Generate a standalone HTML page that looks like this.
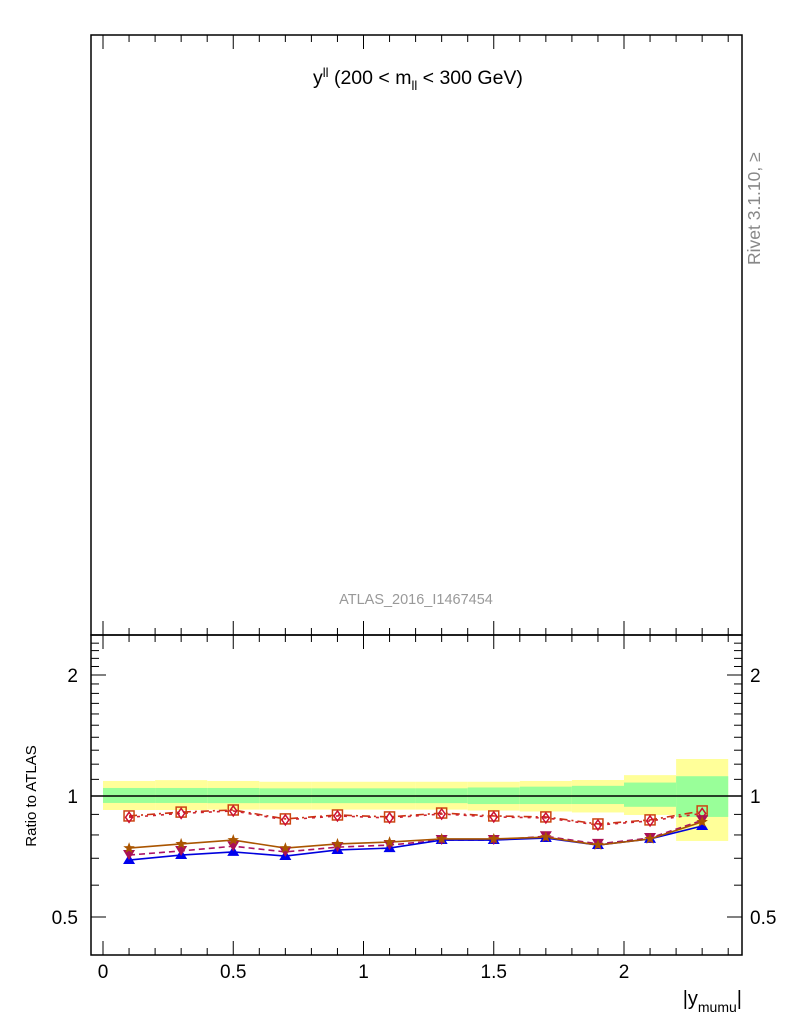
<!DOCTYPE html>
<html><head><meta charset="utf-8"><style>body{margin:0;background:#fff}svg{display:block;font-family:"Liberation Sans",sans-serif}</style></head>
<body>
<svg id="c" width="786" height="1024" viewBox="0 0 786 1024">
<rect x="0" y="0" width="786" height="1024" fill="#fff"/>
<g id="bands"></g><g id="series"></g><g id="axes"></g>
<rect x="91" y="35" width="651" height="600" fill="none" stroke="#000" stroke-width="1.5"/>
<rect x="91" y="635" width="651" height="320" fill="none" stroke="#000" stroke-width="1.5"/>
<text x="313" y="84" font-size="19.5">y<tspan dy="-7" font-size="13">ll</tspan><tspan dy="7"> (200 &lt; m</tspan><tspan dy="6" font-size="13">ll</tspan><tspan dy="-6"> &lt; 300 GeV)</tspan></text>
<text x="416" y="604" font-size="14.5" fill="#999" text-anchor="middle">ATLAS_2016_I1467454</text>
<text transform="translate(760,265) rotate(-90)" font-size="17.5" fill="#888">Rivet 3.1.10, ≥</text>
<text transform="translate(36,796) rotate(-90)" font-size="15" text-anchor="middle">Ratio to ATLAS</text>
<text x="742" y="1005" font-size="20" text-anchor="end">|y<tspan dy="7" font-size="14">mumu</tspan><tspan dy="-7">|</tspan></text>
</svg>
<script>
const binEdges=[0,0.2,0.4,0.6,0.8,1.0,1.2,1.4,1.6,1.8,2.0,2.2,2.4];
const yellowHi=[1.09,1.095,1.09,1.085,1.085,1.085,1.085,1.085,1.09,1.096,1.127,1.236];
const yellowLo=[0.923,0.923,0.925,0.925,0.925,0.925,0.925,0.92,0.915,0.91,0.897,0.773];
const greenHi=[1.047,1.047,1.047,1.045,1.045,1.045,1.045,1.05,1.055,1.06,1.08,1.12];
const greenLo=[0.961,0.961,0.96,0.96,0.96,0.96,0.96,0.955,0.955,0.955,0.94,0.887];
const xs=[0.1,0.3,0.5,0.7,0.9,1.1,1.3,1.5,1.7,1.9,2.1,2.3];
const sSquare=[0.892,0.912,0.923,0.877,0.897,0.887,0.907,0.892,0.887,0.852,0.872,0.918];
const sDiamond=[0.885,0.905,0.918,0.872,0.892,0.882,0.902,0.887,0.882,0.847,0.867,0.905];
const sStar=[0.742,0.76,0.777,0.742,0.76,0.768,0.782,0.782,0.79,0.755,0.782,0.862];
const sTri=[0.693,0.713,0.726,0.709,0.734,0.742,0.777,0.777,0.786,0.755,0.782,0.842];
const sInv=[0.713,0.73,0.75,0.726,0.746,0.755,0.777,0.777,0.794,0.76,0.786,0.87];
const yMajor=[0.5,1,2];
const yMinor=[0.4,0.6,0.7,0.8,0.9,1.1,1.2,1.3,1.4,1.5,1.6,1.7,1.8,1.9,2.1,2.2,2.3,2.4];
const xMajor=[0,0.5,1,1.5,2];
const NS='http://www.w3.org/2000/svg';
const X=v=>103+260.5*v;
const Y=v=>796-121*Math.log2(v);
function mk(tag,attrs,parent){const e=document.createElementNS(NS,tag);for(const k in attrs)e.setAttribute(k,attrs[k]);parent.appendChild(e);return e;}
const bands=document.getElementById('bands'),ser=document.getElementById('series'),ax=document.getElementById('axes');
for(let i=0;i<xs.length;i++){
 const x0=X(binEdges[i]),x1=X(binEdges[i+1]);
 const y=mk('rect',{x:x0,y:Y(yellowHi[i]),width:x1-x0,height:Y(yellowLo[i])-Y(yellowHi[i]),fill:'#ffff99'},bands);
 
 
 const g=mk('rect',{x:x0,y:Y(greenHi[i]),width:x1-x0,height:Y(greenLo[i])-Y(greenHi[i]),fill:'#99ff99'},bands);
 
 
}
const ref=mk('line',{x1:91,x2:742,y1:Y(1),y2:Y(1),stroke:'#000','stroke-width':1.5},bands);


function line(vals,color,dash,name){const p=mk('polyline',{points:xs.map((x,i)=>X(x)+','+Y(vals[i])).join(' '),fill:'none',stroke:color,'stroke-width':1.6,'stroke-dasharray':dash},ser);
 
 }
line(sSquare,'#cc3311','8,4,2,4','series-square-line');
line(sDiamond,'#cc2233','3,5','series-diamond-line');
line(sInv,'#aa1166','6,4','series-invtri-line');
line(sTri,'#0000dd','','series-triangle-line');
line(sStar,'#aa5500','','series-star-line');
xs.forEach((x,i)=>{
 const cx=X(x);
 let m=mk('rect',{x:cx-5,y:Y(sSquare[i])-5,width:10,height:10,fill:'none',stroke:'#cc4411','stroke-width':1.5},ser);
 
 
 let cy=Y(sDiamond[i]);
 m=mk('polygon',{points:`${cx},${cy-5} ${cx+3.5},${cy} ${cx},${cy+5} ${cx-3.5},${cy}`,fill:'none',stroke:'#cc1133','stroke-width':1.5},ser);
 
 
 cy=Y(sTri[i]);
 m=mk('polygon',{points:`${cx},${cy-6} ${cx+6},${cy+4} ${cx-6},${cy+4}`,fill:'#0000ee'},ser);
 
 
 cy=Y(sInv[i]);
 m=mk('polygon',{points:`${cx-6},${cy-5} ${cx+6},${cy-5} ${cx},${cy+5}`,fill:'#aa1155'},ser);
 
 
 cy=Y(sStar[i]);
 let pts=[];for(let k=0;k<10;k++){const r=k%2?2.5:6,a=-Math.PI/2+k*Math.PI/5;pts.push((cx+r*Math.cos(a)).toFixed(1)+','+(cy+r*Math.sin(a)).toFixed(1));}
 m=mk('polygon',{points:pts.join(' '),fill:'#aa5500'},ser);
 
 
});
for(let k=0;k<=24;k++){const v=k/10,x=X(v),maj=Math.abs(v*2-Math.round(v*2))<1e-6,L=maj?14:7;
 mk('line',{x1:x,x2:x,y1:955,y2:955-L,stroke:'#000'},ax);
 mk('line',{x1:x,x2:x,y1:635,y2:635+L,stroke:'#000'},ax);
 mk('line',{x1:x,x2:x,y1:635,y2:635-L,stroke:'#000'},ax);
 mk('line',{x1:x,x2:x,y1:35,y2:35+L,stroke:'#000'},ax);}
xMajor.forEach(v=>{const t=mk('text',{x:X(v),y:978,'font-size':19,'text-anchor':'middle'},ax);t.textContent=String(v);
 
 });
yMinor.forEach(v=>{const y=Y(v);if(y<637||y>955)return;
 mk('line',{x1:91,x2:99,y1:y,y2:y,stroke:'#000'},ax);mk('line',{x1:742,x2:734,y1:y,y2:y,stroke:'#000'},ax);});
yMajor.forEach(v=>{const y=Y(v);
 mk('line',{x1:91,x2:106,y1:y,y2:y,stroke:'#000'},ax);mk('line',{x1:742,x2:727,y1:y,y2:y,stroke:'#000'},ax);
 let t=mk('text',{x:78,y:y+7,'font-size':19,'text-anchor':'end'},ax);t.textContent=String(v);
 
 
 t=mk('text',{x:750,y:y+7,'font-size':19},ax);t.textContent=String(v);
 
 });
</script>
</body></html>
